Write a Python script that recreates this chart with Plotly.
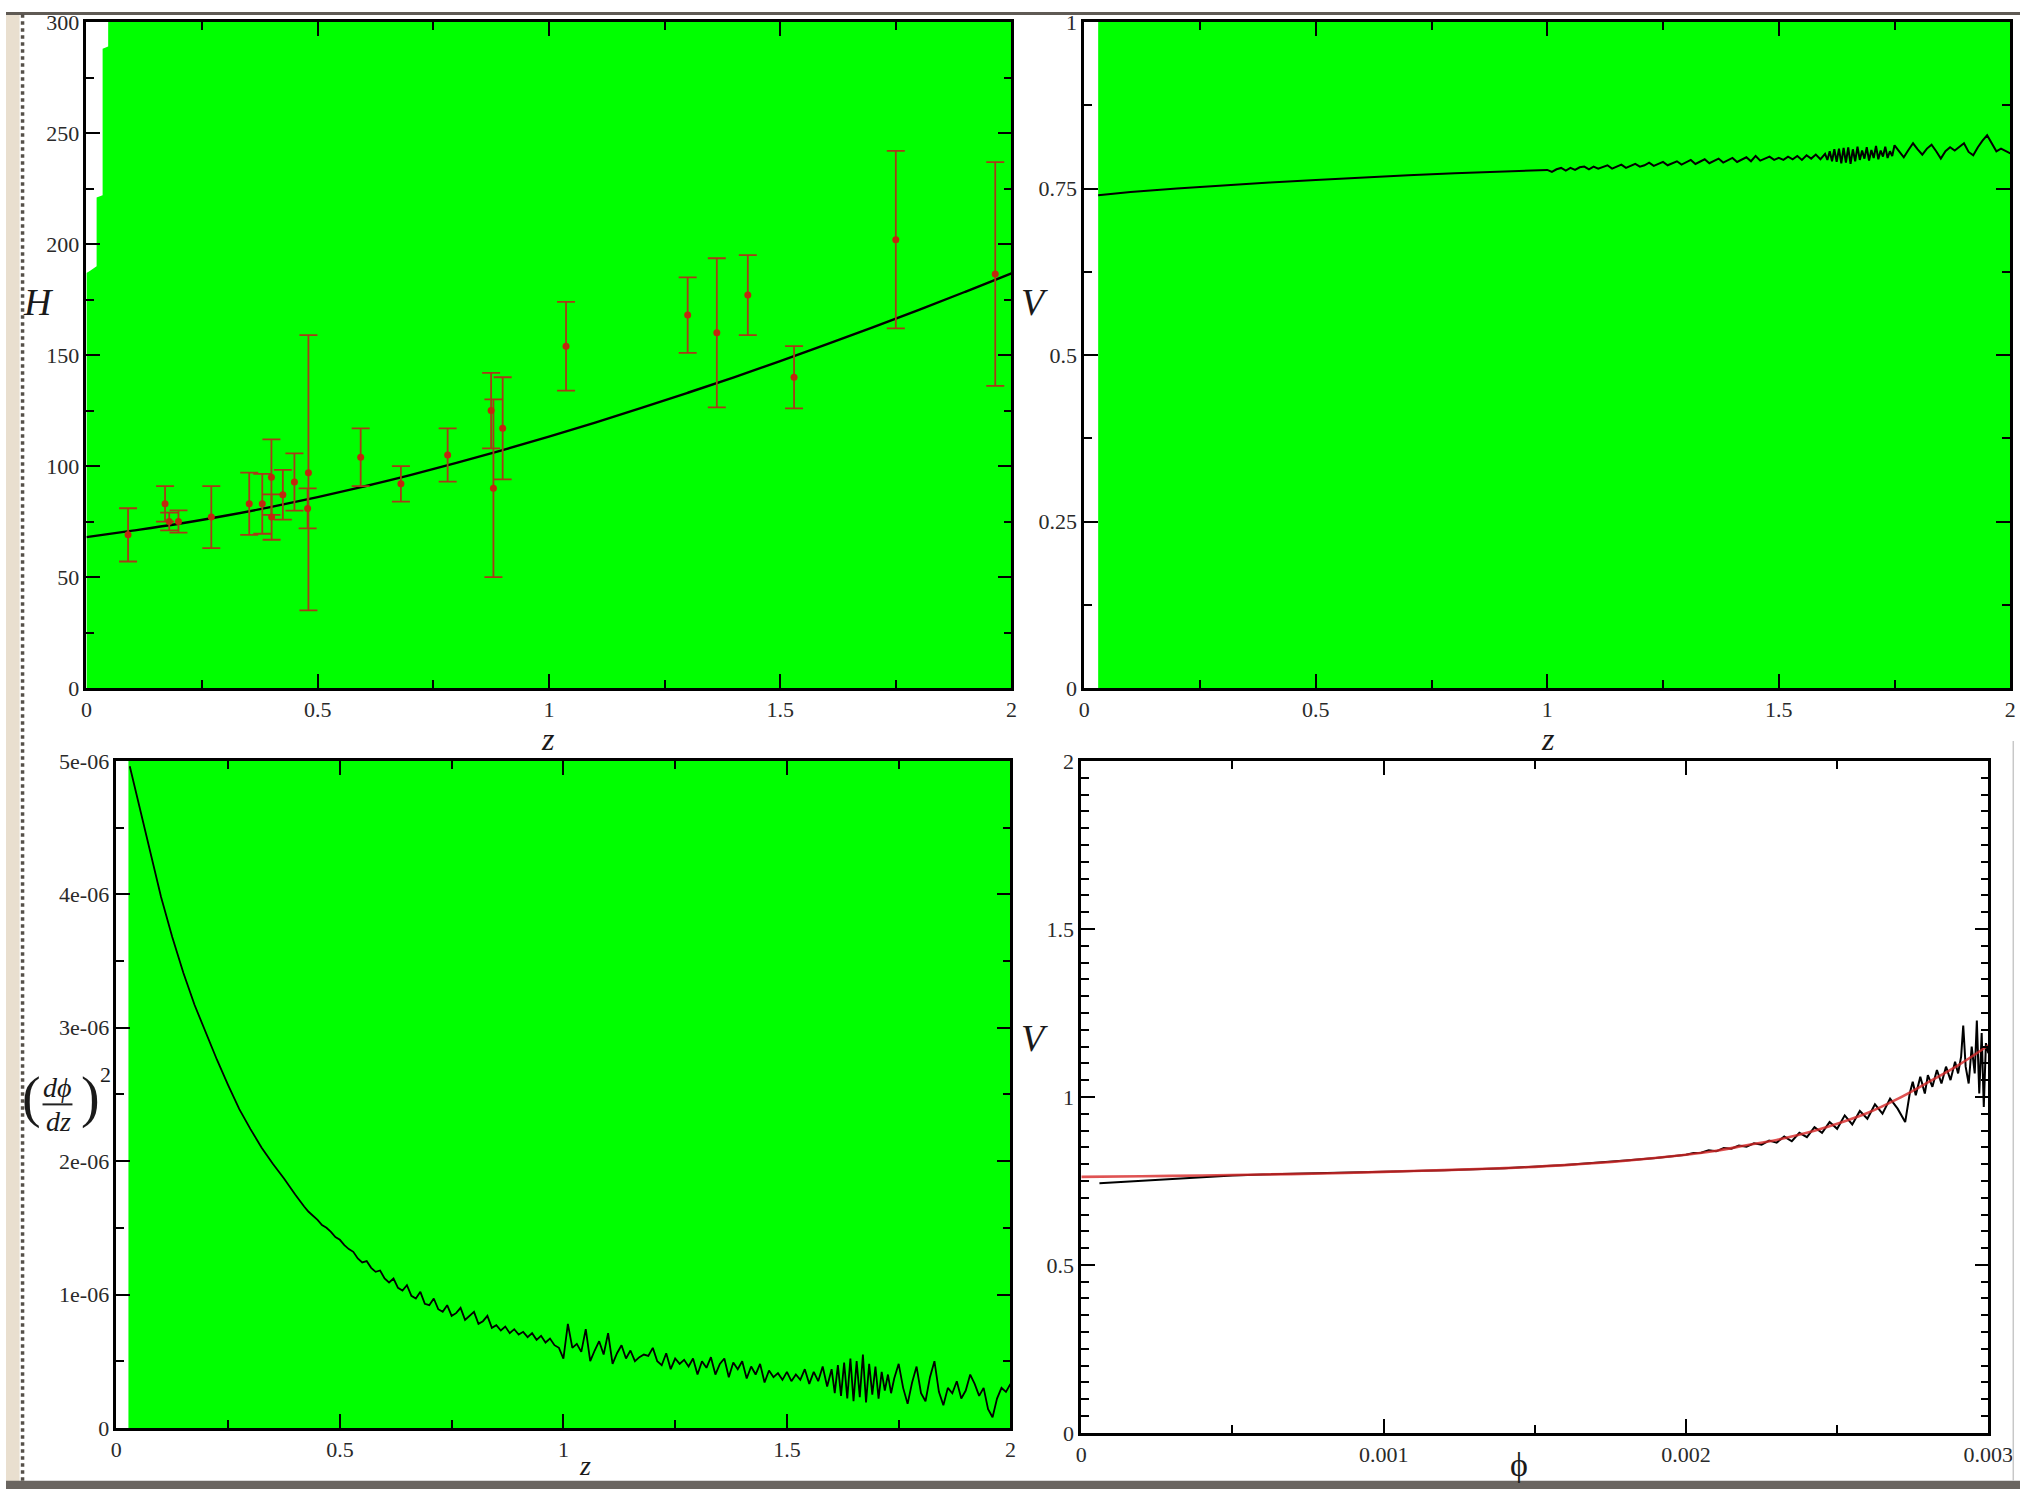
import plotly.graph_objects as go

# Figure canvas (page pixels). Positions below are given in the reference image's pixel
# coordinates and converted to page pixels with the measured screen mapping.
FW, FH = 2050, 1512
SX, SY = 0.987, 0.985
AX, AY = 3.4, 9.9
SERIF = "Liberation Serif"

# ---------------- Panel 1: H(z) observational data + fitted curve ----------------
obs_z = [0.09, 0.17, 0.179, 0.199, 0.27, 0.352, 0.3802, 0.4, 0.4004, 0.4247, 0.4497, 0.4783, 0.48,
         0.593, 0.68, 0.781, 0.875, 0.88, 0.9, 1.037, 1.3, 1.363, 1.43, 1.53, 1.75, 1.965]
obs_H = [69, 83, 75, 75, 77, 83, 83, 95, 77, 87.1, 92.8, 80.9, 97,
         104, 92, 105, 125, 90, 117, 154, 168, 160, 177, 140, 202, 186.5]
obs_err = [12, 8, 4, 5, 14, 14, 13.5, 17, 10.2, 11.2, 12.9, 9, 62,
           13, 8, 12, 17, 40, 23, 20, 17, 33.6, 18, 14, 40, 50.4]

fit_z = [0.0, 0.1, 0.2, 0.3, 0.4, 0.5, 0.6, 0.7, 0.8, 0.9, 1.0,
         1.1, 1.2, 1.3, 1.4, 1.5, 1.6, 1.7, 1.8, 1.9, 2.0]
fit_H = [68.0, 70.9, 74.0, 77.6, 81.6, 86.0, 90.8, 95.9, 101.4, 107.2, 113.3,
         119.6, 126.2, 133.0, 140.0, 147.3, 154.8, 162.5, 170.4, 178.5, 186.8]

# ---------------- Panel 2: V(z) ----------------
vz_z = [0.03, 0.1, 0.2, 0.3, 0.4, 0.5, 0.6, 0.7, 0.8, 0.9,
        1.00, 1.01, 1.02, 1.03, 1.04, 1.05, 1.06, 1.07, 1.08, 1.09,
        1.10, 1.11, 1.12, 1.13, 1.14, 1.15, 1.16, 1.17, 1.18, 1.19,
        1.20, 1.21, 1.22, 1.23, 1.24, 1.25, 1.26, 1.27, 1.28, 1.29,
        1.30, 1.31, 1.32, 1.33, 1.34, 1.35, 1.36, 1.37, 1.38, 1.39,
        1.40, 1.41, 1.42, 1.43, 1.44, 1.45, 1.46, 1.47, 1.48, 1.49,
        1.50, 1.51, 1.52, 1.53, 1.54, 1.55, 1.56, 1.57, 1.58, 1.59,
        1.600, 1.605, 1.610, 1.615, 1.620, 1.625, 1.630, 1.635, 1.640, 1.645,
        1.650, 1.655, 1.660, 1.665, 1.670, 1.675, 1.680, 1.685, 1.690, 1.695,
        1.700, 1.705, 1.710, 1.715, 1.720, 1.725, 1.730, 1.735, 1.740, 1.745,
        1.75, 1.76, 1.77, 1.78, 1.79, 1.80, 1.81, 1.82, 1.83, 1.84,
        1.85, 1.86, 1.87, 1.88, 1.89, 1.90, 1.91, 1.92, 1.93, 1.94,
        1.95, 1.96, 1.97, 1.98, 1.99, 2.00]
vz_V = [0.740, 0.745, 0.750, 0.755, 0.759, 0.763, 0.767, 0.770, 0.773, 0.776,
        0.778, 0.775, 0.779, 0.781, 0.777, 0.781, 0.778, 0.782, 0.783, 0.779,
        0.783, 0.780, 0.782, 0.785, 0.780, 0.783, 0.786, 0.781, 0.784, 0.787,
        0.783, 0.785, 0.789, 0.784, 0.787, 0.790, 0.785, 0.788, 0.791, 0.786,
        0.789, 0.793, 0.787, 0.790, 0.794, 0.788, 0.791, 0.795, 0.789, 0.792,
        0.796, 0.790, 0.793, 0.797, 0.791, 0.799, 0.792, 0.795, 0.798, 0.793,
        0.796, 0.793, 0.798, 0.794, 0.799, 0.793, 0.800, 0.795, 0.801, 0.794,
        0.802, 0.793, 0.806, 0.791, 0.809, 0.790, 0.810, 0.788, 0.811, 0.789,
        0.812, 0.787, 0.809, 0.791, 0.813, 0.793, 0.807, 0.795, 0.812, 0.792,
        0.808, 0.796, 0.814, 0.794, 0.807, 0.798, 0.813, 0.796, 0.806, 0.799,
        0.815, 0.806, 0.797, 0.808, 0.818, 0.809, 0.801, 0.810, 0.816, 0.806,
        0.795, 0.806, 0.812, 0.807, 0.812, 0.818, 0.805, 0.800, 0.812, 0.822,
        0.830, 0.818, 0.806, 0.810, 0.807, 0.803]

# ---------------- Panel 3: (dphi/dz)^2, in units of 1e-6 ----------------
dp_z = [0.03, 0.05, 0.075, 0.1, 0.125, 0.15, 0.175, 0.2, 0.225, 0.25, 0.275, 0.3, 0.325, 0.35, 0.375,
        0.40, 0.41, 0.42, 0.43, 0.44, 0.45, 0.46, 0.47, 0.48, 0.49,
        0.50, 0.51, 0.52, 0.53, 0.54, 0.55, 0.56, 0.57, 0.58, 0.59,
        0.60, 0.61, 0.62, 0.63, 0.64, 0.65, 0.66, 0.67, 0.68, 0.69,
        0.70, 0.71, 0.72, 0.73, 0.74, 0.75, 0.76, 0.77, 0.78, 0.79,
        0.80, 0.81, 0.82, 0.83, 0.84, 0.85, 0.86, 0.87, 0.88, 0.89,
        0.90, 0.91, 0.92, 0.93, 0.94, 0.95, 0.96, 0.97, 0.98, 0.99,
        1.00, 1.01, 1.02, 1.03, 1.04, 1.05, 1.06, 1.07, 1.08, 1.09,
        1.10, 1.11, 1.12, 1.13, 1.14, 1.15, 1.16, 1.17, 1.18, 1.19,
        1.20, 1.21, 1.22, 1.23, 1.24, 1.25, 1.26, 1.27, 1.28, 1.29,
        1.30, 1.31, 1.32, 1.33, 1.34, 1.35, 1.36, 1.37, 1.38, 1.39,
        1.40, 1.41, 1.42, 1.43, 1.44, 1.45, 1.46, 1.47, 1.48, 1.49,
        1.50, 1.51, 1.52, 1.53, 1.54, 1.55, 1.56, 1.57, 1.58, 1.59,
        1.600, 1.607, 1.614, 1.621, 1.628, 1.635, 1.642, 1.649, 1.656, 1.663,
        1.670, 1.677, 1.684, 1.691, 1.698, 1.705, 1.712, 1.719, 1.726, 1.733,
        1.740,
        1.75, 1.76, 1.77, 1.78, 1.79, 1.80, 1.81, 1.82, 1.83, 1.84,
        1.85, 1.86, 1.87, 1.88, 1.89, 1.90, 1.91, 1.92, 1.93, 1.94,
        1.95, 1.96, 1.97, 1.98, 1.99, 2.00]
dp_val_e6 = [4.96, 4.68, 4.32, 3.98, 3.68, 3.41, 3.17, 2.96, 2.76, 2.57, 2.39, 2.24, 2.10, 1.98, 1.87,
             1.75, 1.70, 1.66, 1.62, 1.59, 1.56, 1.52, 1.50, 1.47, 1.43,
             1.41, 1.37, 1.34, 1.32, 1.27, 1.24, 1.25, 1.20, 1.17, 1.18,
             1.12, 1.09, 1.12, 1.05, 1.03, 1.07, 0.99, 0.97, 1.02, 0.93,
             0.92, 0.97, 0.89, 0.87, 0.92, 0.84, 0.86, 0.90, 0.81, 0.84,
             0.87, 0.78, 0.80, 0.84, 0.75, 0.77, 0.73, 0.76, 0.71, 0.74,
             0.70, 0.72, 0.68, 0.71, 0.66, 0.69, 0.64, 0.67, 0.62, 0.60,
             0.52, 0.78, 0.60, 0.63, 0.57, 0.74, 0.50, 0.58, 0.65, 0.55,
             0.71, 0.48, 0.56, 0.62, 0.52, 0.58, 0.50, 0.53, 0.55, 0.54,
             0.60, 0.50, 0.47, 0.56, 0.44, 0.52, 0.48, 0.51, 0.46, 0.52,
             0.40, 0.50, 0.45, 0.53, 0.40, 0.48, 0.52, 0.38, 0.49, 0.44,
             0.50, 0.37, 0.46, 0.40, 0.48, 0.34, 0.43, 0.38, 0.41, 0.36,
             0.42, 0.35, 0.40, 0.36, 0.44, 0.33, 0.42, 0.35, 0.46, 0.31,
             0.44, 0.26, 0.47, 0.24, 0.49, 0.22, 0.52, 0.20, 0.50, 0.23,
             0.55, 0.19, 0.48, 0.25, 0.46, 0.22, 0.42, 0.28, 0.40, 0.26,
             0.37,
             0.48, 0.30, 0.18, 0.34, 0.46, 0.26, 0.20, 0.38, 0.50, 0.27,
             0.17, 0.30, 0.26, 0.35, 0.22, 0.28, 0.40, 0.33, 0.24, 0.30,
             0.14, 0.08, 0.22, 0.30, 0.27, 0.33]

# ---------------- Panel 4: V(phi) reconstructed (black) and fit (red) ----------------
vphi_phi = [0.00006, 0.0001, 0.0002, 0.0003, 0.0004, 0.0005, 0.0006, 0.0008, 0.0010, 0.0012,
            0.0014, 0.0016, 0.0017, 0.0018, 0.0019,
            0.002000, 0.002025, 0.002050, 0.002075, 0.002100, 0.002125, 0.002150, 0.002175,
            0.002200, 0.002225, 0.002250, 0.002275, 0.002300, 0.002325, 0.002350, 0.002375,
            0.002400, 0.002425, 0.002450, 0.002475, 0.002500, 0.002525, 0.002550, 0.002575,
            0.002600, 0.002625, 0.002650, 0.002675, 0.002700, 0.002725, 0.002740, 0.002750,
            0.002760, 0.002775, 0.002790, 0.002800, 0.002815, 0.002830, 0.002845, 0.002860,
            0.002875, 0.002890, 0.002900, 0.002910, 0.002917, 0.002925, 0.002935, 0.002945,
            0.002955, 0.002962, 0.002970, 0.002978, 0.002985, 0.002992, 0.003000]
vphi_V = [0.743, 0.745, 0.750, 0.756, 0.762, 0.766, 0.769, 0.772, 0.777, 0.782,
          0.788, 0.797, 0.803, 0.811, 0.818,
          0.828, 0.833, 0.834, 0.841, 0.838, 0.848, 0.846, 0.855,
          0.852, 0.862, 0.858, 0.870, 0.864, 0.882, 0.868, 0.893,
          0.880, 0.910, 0.893, 0.925, 0.905, 0.945, 0.918, 0.958,
          0.935, 0.978, 0.950, 0.995, 0.965, 0.925, 1.010, 1.045,
          1.005, 1.060, 1.010, 1.065, 1.030, 1.080, 1.040, 1.090,
          1.050, 1.105, 1.070, 1.120, 1.212, 1.090, 1.040, 1.150,
          1.070, 1.227, 1.010, 1.190, 0.970, 1.160, 1.130]

fitphi_phi = [0.0, 0.0002, 0.0004, 0.0006, 0.0008, 0.0010, 0.0012, 0.0014, 0.0016, 0.0018,
              0.0020, 0.0021, 0.0022, 0.0023, 0.0024, 0.0025, 0.0026, 0.0027, 0.0028, 0.0029, 0.0030]
fitphi_V = [0.762, 0.764, 0.766, 0.769, 0.772, 0.777, 0.782, 0.788, 0.797, 0.810,
            0.828, 0.840, 0.856, 0.872, 0.893, 0.920, 0.952, 0.994, 1.043, 1.094, 1.153]

# ---------------- green background regions (data coords) ----------------
tl_green_x = [0.047, 2, 2, 0, 0, 0.008, 0.022, 0.022, 0.035, 0.035, 0.047]
tl_green_y = [300, 300, 0, 0, 187, 188, 190, 221, 222, 288, 289]
tr_green_x0 = 0.03
bl_green_x0 = 0.027

# tick labels
tick_z = [0, 0.5, 1, 1.5, 2]
tick_z_txt = ["0", "0.5", "1", "1.5", "2"]
tick_H = [0, 50, 100, 150, 200, 250, 300]
tick_H_txt = ["0", "50", "100", "150", "200", "250", "300"]
tick_V1 = [0, 0.25, 0.5, 0.75, 1]
tick_V1_txt = ["0", "0.25", "0.5", "0.75", "1"]
tick_dp = [0, 1e-6, 2e-6, 3e-6, 4e-6, 5e-6]
tick_dp_txt = ["0", "1e-06", "2e-06", "3e-06", "4e-06", "5e-06"]
tick_phi = [0, 0.001, 0.002, 0.003]
tick_phi_txt = ["0", "0.001", "0.002", "0.003"]
tick_V2 = [0, 0.5, 1, 1.5, 2]
tick_V2_txt = ["0", "0.5", "1", "1.5", "2"]

minor_z = [0.25, 0.75, 1.25, 1.75]
minor_H = [25, 75, 125, 175, 225, 275]
minor_V1 = [0.125, 0.375, 0.625, 0.875]
minor_dp = [0.5e-6, 1.5e-6, 2.5e-6, 3.5e-6, 4.5e-6]
minor_phi = [0.0005, 0.0015, 0.0025]
minor_V2 = [0.05, 0.1, 0.15, 0.2, 0.25, 0.3, 0.35, 0.4, 0.45,
            0.55, 0.6, 0.65, 0.7, 0.75, 0.8, 0.85, 0.9, 0.95,
            1.05, 1.1, 1.15, 1.2, 1.25, 1.3, 1.35, 1.4, 1.45,
            1.55, 1.6, 1.65, 1.7, 1.75, 1.8, 1.85, 1.9, 1.95]

GREEN = "#00FF00"
ERR = "#A83A18"


def px(s):
    """reference-image x pixel -> paper fraction"""
    return ((s - AX) / SX) / FW


def py(s):
    """reference-image y pixel -> paper fraction"""
    return 1 - ((s - AY) / SY) / FH


fig = go.Figure()

# Panel 1
fig.add_trace(go.Scatter(x=fit_z, y=fit_H, mode="lines", line=dict(color="black", width=2.4, shape="spline"),
                         xaxis="x", yaxis="y", showlegend=False))
fig.add_trace(go.Scatter(x=obs_z, y=obs_H, mode="markers",
                         marker=dict(color="#C0280E", size=7),
                         error_y=dict(type="data", array=obs_err, color=ERR, thickness=1.8, width=9),
                         xaxis="x", yaxis="y", showlegend=False))
# Panel 2
fig.add_trace(go.Scatter(x=vz_z, y=vz_V, mode="lines", line=dict(color="black", width=2),
                         xaxis="x2", yaxis="y2", showlegend=False))
# Panel 3
fig.add_trace(go.Scatter(x=dp_z, y=[v * 1e-6 for v in dp_val_e6], mode="lines",
                         line=dict(color="black", width=1.8),
                         xaxis="x3", yaxis="y3", showlegend=False))
# Panel 4
fig.add_trace(go.Scatter(x=vphi_phi, y=vphi_V, mode="lines", line=dict(color="black", width=2),
                         xaxis="x4", yaxis="y4", showlegend=False))
fig.add_trace(go.Scatter(x=fitphi_phi, y=fitphi_V, mode="lines",
                         line=dict(color="rgba(215,40,40,0.8)", width=2.6, shape="spline"),
                         xaxis="x4", yaxis="y4", showlegend=False))


def axis(domain, rng, tv, tt, minor_vals, anchor):
    return dict(domain=domain, range=rng, anchor=anchor, tickmode="array", tickvals=tv, ticktext=tt,
                showline=True, linecolor="black", linewidth=2.6, mirror="ticks",
                ticks="inside", ticklen=14, tickwidth=2, tickcolor="black",
                showgrid=False, zeroline=False,
                tickfont=dict(family=SERIF, size=22, color="#2a2a2a"),
                minor=dict(tickmode="array", tickvals=minor_vals, ticks="inside", ticklen=8,
                           tickwidth=1.6, tickcolor="black", showgrid=False))


tl_x = [px(84), px(1011)]
tl_y = [py(687), py(20)]
tr_x = [px(1084), px(2012)]
bl_x = [px(114), px(1010)]
bl_y = [py(1428), py(760)]
br_x = [px(1081), px(1990)]
br_y = [py(1433), py(760)]

fig.update_layout(
    width=FW, height=FH, margin=dict(l=0, r=0, t=0, b=0),
    paper_bgcolor="white", plot_bgcolor="white",
    xaxis=axis(tl_x, [0, 2], tick_z, tick_z_txt, minor_z, "y"),
    yaxis=axis(tl_y, [0, 300], tick_H, tick_H_txt, minor_H, "x"),
    xaxis2=axis(tr_x, [0, 2], tick_z, tick_z_txt, minor_z, "y2"),
    yaxis2=axis(tl_y, [0, 1], tick_V1, tick_V1_txt, minor_V1, "x2"),
    xaxis3=axis(bl_x, [0, 2], tick_z, tick_z_txt, minor_z, "y3"),
    yaxis3=axis(bl_y, [0, 5e-6], tick_dp, tick_dp_txt, minor_dp, "x3"),
    xaxis4=axis(br_x, [0, 0.003], tick_phi, tick_phi_txt, minor_phi, "y4"),
    yaxis4=axis(br_y, [0, 2], tick_V2, tick_V2_txt, minor_V2, "x4"),
)

shapes = []
# green plot regions
path = "M " + " L ".join(f"{x},{y}" for x, y in zip(tl_green_x, tl_green_y)) + " Z"
shapes.append(dict(type="path", path=path, xref="x", yref="y", fillcolor=GREEN, line=dict(width=0), layer="below"))
shapes.append(dict(type="rect", xref="x2", yref="y2", x0=tr_green_x0, x1=2, y0=0, y1=1,
                   fillcolor=GREEN, line=dict(width=0), layer="below"))
shapes.append(dict(type="rect", xref="x3", yref="y3", x0=bl_green_x0, x1=2, y0=0, y1=5e-6,
                   fillcolor=GREEN, line=dict(width=0), layer="below"))

# page border decorations (scanned frame)
BEIGE = "#E9DFCF"
shapes.append(dict(type="rect", xref="paper", yref="paper", x0=0, x1=px(17), y0=0, y1=1,
                   fillcolor=BEIGE, line=dict(width=0), layer="below"))
shapes.append(dict(type="rect", xref="paper", yref="paper", x0=0, x1=1, y0=py(13), y1=1,
                   fillcolor="#5f5a54", line=dict(width=0), layer="below"))
shapes.append(dict(type="rect", xref="paper", yref="paper", x0=0, x1=1, y0=0, y1=py(1481),
                   fillcolor="#6a6560", line=dict(width=0), layer="below"))
shapes.append(dict(type="line", xref="paper", yref="paper", x0=px(20), x1=px(20), y0=py(1481), y1=py(12),
                   line=dict(color="#555049", width=3.5, dash="dot")))
shapes.append(dict(type="line", xref="paper", yref="paper", x0=px(2015), x1=px(2015), y0=py(1481), y1=py(740),
                   line=dict(color="#c8c8c8", width=1.5)))

# fraction bar of (dphi/dz)^2 label
shapes.append(dict(type="line", xref="paper", yref="paper", x0=px(40), x1=px(70), y0=py(1104), y1=py(1104),
                   line=dict(color="#222", width=2)))
fig.update_layout(shapes=shapes)


def label(text, x, y, size, italic=True):
    t = f"<i>{text}</i>" if italic else text
    return dict(text=t, x=px(x), y=py(y), xref="paper", yref="paper", showarrow=False,
                xanchor="center", yanchor="middle", font=dict(family=SERIF, size=size, color="#1a1a1a"))


ann = [
    label("H", 36, 300, 38),
    label("V", 1034, 300, 38),
    label("z", 547, 738, 32),
    label("z", 1549, 738, 32),
    label("z", 584, 1466, 28),
    label("V", 1034, 1037, 38),
    label("ϕ", 1520, 1465, 34, italic=False),
    label("(", 29, 1097, 56, italic=False),
    label(")", 88, 1097, 56, italic=False),
    label("dϕ", 55, 1087, 28),
    label("dz", 56, 1121, 28),
    label("2", 103, 1074, 22, italic=False),
]
fig.update_layout(annotations=ann)

fig.write_html(
    "out.html",
    config={"displayModeBar": False},
    post_script="document.body.style.margin='0px';document.body.style.overflow='hidden';"
                "document.documentElement.style.overflow='hidden';",
)
